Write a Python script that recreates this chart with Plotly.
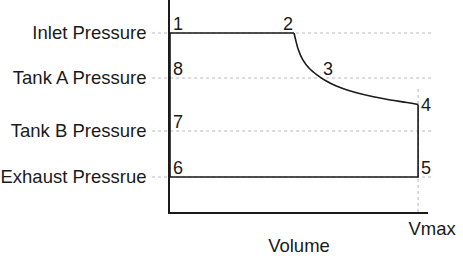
import plotly.graph_objects as go

# ---- data ----
pressure_names = ["Inlet Pressure", "Tank A Pressure", "Tank B Pressure", "Exhaust Pressrue"]
pressure_vals = [17.9, 13.4, 8.1, 3.5]
vmax = 1.0

# expansion curve 2 -> 4 (volume, pressure)
curve_v = [0.500, 0.508, 0.517, 0.535, 0.561, 0.595, 0.628, 0.668, 0.708, 0.748, 0.82, 0.888, 0.955, 1.0]
curve_p = [17.9, 17.06, 16.26, 15.24, 14.38, 13.67, 13.13, 12.63, 12.25, 11.95, 11.52, 11.2, 10.95, 10.75]

# cycle corner points
p_inlet, p_tankA, p_tankB, p_exh = pressure_vals
v2 = curve_v[0]
p4 = curve_p[-1]

# point labels
pt_labels = ["1", "2", "3", "4", "5", "6", "7", "8"]
pt_v = [0.0, v2, 0.605, vmax, vmax, 0.0, 0.0, 0.0]
pt_p = [p_inlet, p_inlet, p_tankA, p4, p_exh, p_exh, p_tankB, p_tankA]
pt_xanchor = ["left", "right", "left", "left", "left", "left", "left", "left"]
pt_yanchor = ["bottom", "bottom", "bottom", "middle", "bottom", "bottom", "bottom", "bottom"]

y_max = 21.2
x_max = 1.04

FONT = "Liberation Sans, Arial, sans-serif"
LINE = "#1a1a1a"
GRID = "#b8b8b8"

fig = go.Figure()

# straight parts of cycle
fig.add_trace(go.Scatter(
    x=[v2, 0.0, 0.0, vmax, vmax],
    y=[p_inlet, p_inlet, p_exh, p_exh, p4],
    mode="lines", line=dict(color=LINE, width=1.6), hoverinfo="skip"))
# expansion curve
fig.add_trace(go.Scatter(
    x=curve_v, y=curve_p, mode="lines",
    line=dict(color=LINE, width=1.6, shape="spline", smoothing=1.0), hoverinfo="skip"))

# horizontal dotted gridlines (extend slightly left of y axis)
plot_l, plot_r = 168, 428
x0p = (150 - plot_l) / (plot_r - plot_l)
x1p = (433 - plot_l) / (plot_r - plot_l)
for pv in pressure_vals:
    fig.add_shape(type="line", xref="paper", yref="y", x0=x0p, x1=x1p, y0=pv, y1=pv,
                  line=dict(color=GRID, width=1, dash="dot"), layer="below")
# vertical dotted gridline at Vmax
fig.add_shape(type="line", xref="x", yref="y", x0=vmax, x1=vmax, y0=0, y1=12.6,
              line=dict(color=GRID, width=1, dash="dot"), layer="below")

for t, v, p, xa, ya in zip(pt_labels, pt_v, pt_p, pt_xanchor, pt_yanchor):
    fig.add_annotation(x=v, y=p, text=t, showarrow=False, xanchor=xa, yanchor=ya,
                       xshift=1, yshift=-3 if ya == "bottom" else 0,
                       font=dict(family=FONT, size=18, color=LINE))

fig.update_layout(
    width=463, height=256,
    margin=dict(l=plot_l, r=463 - plot_r, t=0, b=44),
    paper_bgcolor="white", plot_bgcolor="white",
    showlegend=False,
    font=dict(family=FONT, size=18.5, color=LINE),
    xaxis=dict(range=[0, x_max], showgrid=False, zeroline=False,
               showline=True, linecolor=LINE, linewidth=1.6,
               tickvals=[vmax], ticktext=["Vmax"], ticks="",
               ticklabelshift=14, ticklabelstandoff=-1,
               title=dict(text="Volume", standoff=3, font=dict(size=18.5))),
    yaxis=dict(range=[0, y_max], showgrid=False, zeroline=False,
               showline=True, linecolor=LINE, linewidth=1.6,
               tickvals=pressure_vals, ticktext=pressure_names, ticks="",
               ticklabelstandoff=18),
)

fig.write_html("out.html")
